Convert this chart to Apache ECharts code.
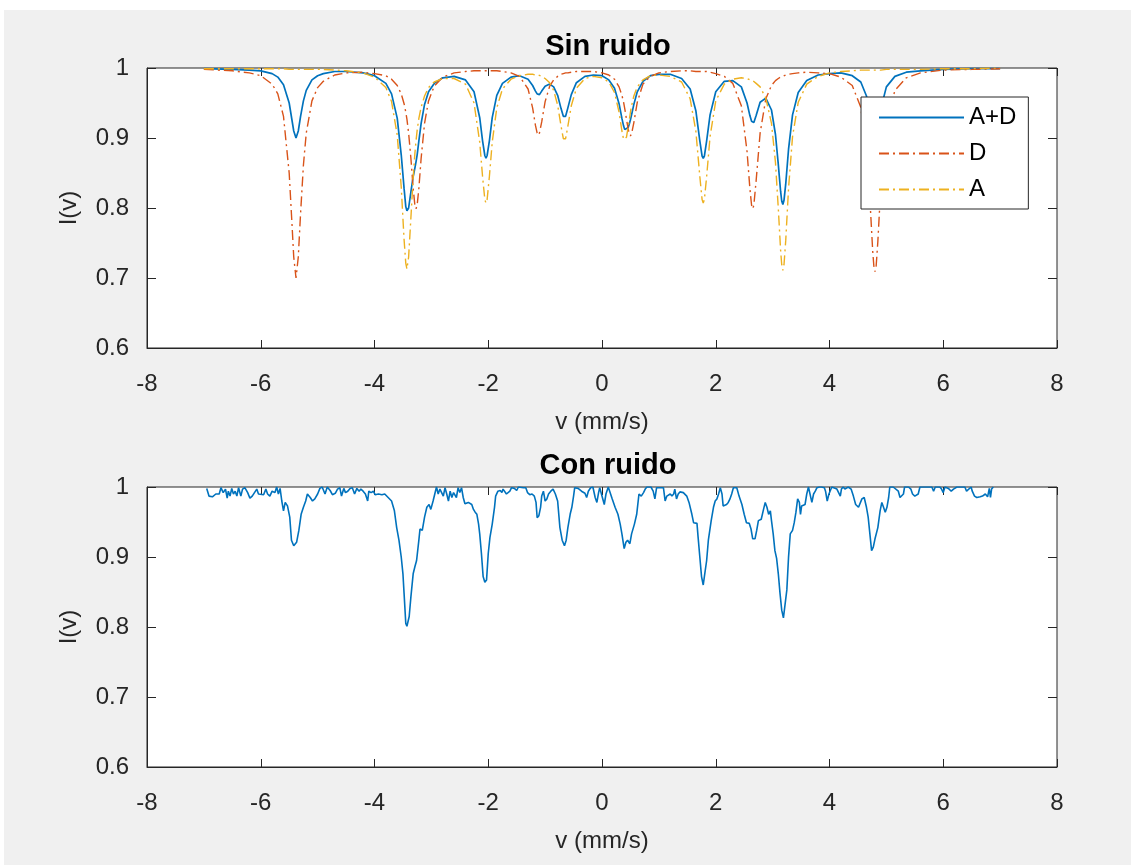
<!DOCTYPE html>
<html>
<head>
<meta charset="utf-8">
<script src="https://cdn.jsdelivr.net/npm/echarts@6/dist/echarts.min.js"></script>
<style>
html,body{margin:0;padding:0;background:#fff;}
#chart{width:1131px;height:865px;}
</style>
</head>
<body>
<div id="chart"></div>
<script>
// ---------- data ----------
const titles = ['Sin ruido', 'Con ruido'];
const legendNames = ['A+D', 'D', 'A'];
const xTickMin = -8, xTickMax = 8, xTickStep = 2;
const yTickMin = 0.6, yTickMax = 1, yTickStep = 0.1;

const vClean = [-7.0,-6.5,-6.2,-6.0,-5.8,-5.7,-5.6,-5.5,-5.45,-5.42,-5.38,-5.34,-5.30,-5.25,-5.2,-5.1,-5.0,-4.9,-4.7,-4.5,-4.2,-4.0,-3.8,-3.7,-3.6,-3.53,-3.48,-3.45,-3.43,-3.40,-3.36,-3.32,-3.29,-3.27,-3.25,-3.22,-3.18,-3.12,-3.05,-2.95,-2.8,-2.6,-2.4,-2.25,-2.15,-2.10,-2.06,-2.04,-2.02,-1.98,-1.93,-1.85,-1.75,-1.6,-1.45,-1.3,-1.22,-1.17,-1.14,-1.12,-1.10,-1.06,-1.0,-0.92,-0.85,-0.78,-0.72,-0.68,-0.66,-0.64,-0.60,-0.54,-0.45,-0.3,-0.15,0.0,0.12,0.22,0.30,0.35,0.38,0.40,0.43,0.46,0.48,0.50,0.52,0.56,0.62,0.72,0.85,1.0,1.2,1.4,1.55,1.65,1.72,1.76,1.78,1.80,1.84,1.90,2.0,2.15,2.3,2.45,2.55,2.60,2.63,2.65,2.67,2.71,2.78,2.88,2.98,3.05,3.10,3.14,3.16,3.18,3.20,3.23,3.28,3.35,3.45,3.6,3.8,4.0,4.2,4.4,4.55,4.65,4.72,4.76,4.78,4.80,4.82,4.85,4.9,5.0,5.15,5.35,5.6,6.0,6.5,7.0];

const iA = [0.999,0.999,0.999,0.999,0.999,0.999,0.999,0.998,0.998,0.998,0.998,0.998,0.998,0.998,0.998,0.998,0.998,0.998,0.997,0.996,0.993,0.987,0.972,0.952,0.904,0.830,0.755,0.721,0.713,0.730,0.786,0.843,0.878,0.896,0.911,0.928,0.944,0.960,0.972,0.980,0.985,0.985,0.977,0.950,0.894,0.845,0.812,0.807,0.812,0.845,0.894,0.943,0.970,0.984,0.989,0.991,0.991,0.990,0.990,0.990,0.989,0.988,0.985,0.979,0.968,0.947,0.917,0.899,0.897,0.899,0.917,0.946,0.971,0.985,0.988,0.986,0.980,0.965,0.937,0.910,0.898,0.896,0.901,0.916,0.926,0.937,0.946,0.960,0.973,0.983,0.989,0.990,0.988,0.980,0.956,0.910,0.845,0.812,0.807,0.812,0.845,0.902,0.953,0.977,0.984,0.986,0.985,0.983,0.982,0.982,0.981,0.978,0.973,0.957,0.921,0.865,0.799,0.740,0.719,0.711,0.719,0.753,0.828,0.902,0.951,0.977,0.988,0.993,0.995,0.996,0.997,0.997,0.997,0.997,0.997,0.997,0.997,0.997,0.997,0.998,0.998,0.998,0.998,0.999,0.999,1.000];

const iD = [0.998,0.996,0.993,0.989,0.977,0.963,0.931,0.850,0.776,0.730,0.700,0.730,0.792,0.861,0.907,0.953,0.972,0.981,0.990,0.993,0.994,0.992,0.989,0.984,0.975,0.963,0.949,0.937,0.927,0.907,0.871,0.828,0.804,0.799,0.804,0.828,0.871,0.921,0.953,0.974,0.987,0.993,0.995,0.996,0.996,0.996,0.996,0.996,0.996,0.996,0.996,0.996,0.995,0.993,0.988,0.970,0.943,0.918,0.907,0.904,0.907,0.923,0.952,0.974,0.983,0.988,0.991,0.992,0.993,0.993,0.993,0.994,0.995,0.995,0.995,0.993,0.990,0.984,0.973,0.961,0.951,0.942,0.927,0.913,0.906,0.903,0.906,0.922,0.951,0.977,0.988,0.993,0.995,0.996,0.996,0.995,0.995,0.995,0.995,0.995,0.995,0.994,0.992,0.988,0.978,0.946,0.881,0.828,0.804,0.799,0.804,0.839,0.907,0.956,0.975,0.982,0.985,0.987,0.988,0.988,0.989,0.990,0.991,0.992,0.993,0.994,0.993,0.992,0.987,0.975,0.944,0.886,0.798,0.738,0.717,0.709,0.717,0.752,0.828,0.922,0.968,0.986,0.993,0.997,0.998,0.999];

const iAD = [0.999,0.998,0.997,0.996,0.992,0.987,0.976,0.950,0.925,0.910,0.900,0.910,0.931,0.953,0.968,0.983,0.989,0.992,0.995,0.995,0.993,0.989,0.978,0.963,0.928,0.876,0.828,0.802,0.796,0.800,0.823,0.845,0.857,0.866,0.876,0.896,0.921,0.948,0.966,0.978,0.986,0.988,0.983,0.966,0.929,0.896,0.875,0.871,0.875,0.896,0.929,0.961,0.978,0.987,0.989,0.984,0.975,0.967,0.963,0.962,0.962,0.967,0.974,0.977,0.973,0.961,0.942,0.931,0.929,0.931,0.943,0.962,0.979,0.988,0.990,0.989,0.983,0.971,0.949,0.928,0.917,0.912,0.911,0.915,0.920,0.926,0.933,0.948,0.966,0.981,0.989,0.991,0.991,0.985,0.970,0.939,0.896,0.874,0.871,0.874,0.896,0.933,0.966,0.981,0.982,0.973,0.950,0.932,0.924,0.922,0.922,0.932,0.951,0.957,0.940,0.905,0.862,0.824,0.810,0.805,0.811,0.834,0.884,0.933,0.965,0.982,0.990,0.992,0.993,0.989,0.980,0.960,0.931,0.911,0.904,0.902,0.904,0.916,0.941,0.973,0.988,0.994,0.996,0.998,0.999,0.999];

const vNoisy = [-6.95,-6.91,-6.85,-6.79,-6.73,-6.70,-6.66,-6.62,-6.59,-6.57,-6.54,-6.51,-6.48,-6.45,-6.42,-6.39,-6.35,-6.32,-6.28,-6.23,-6.19,-6.15,-6.11,-6.07,-6.04,-6.01,-5.95,-5.91,-5.88,-5.84,-5.80,-5.75,-5.72,-5.69,-5.66,-5.63,-5.60,-5.57,-5.53,-5.49,-5.46,-5.42,-5.37,-5.33,-5.29,-5.25,-5.21,-5.18,-5.13,-5.09,-5.05,-5.00,-4.96,-4.92,-4.87,-4.83,-4.78,-4.74,-4.69,-4.65,-4.61,-4.58,-4.54,-4.51,-4.47,-4.43,-4.39,-4.35,-4.31,-4.27,-4.24,-4.20,-4.16,-4.12,-4.10,-4.06,-4.02,-3.99,-3.93,-3.87,-3.82,-3.76,-3.70,-3.65,-3.61,-3.57,-3.53,-3.50,-3.48,-3.45,-3.43,-3.39,-3.36,-3.32,-3.29,-3.26,-3.22,-3.20,-3.16,-3.12,-3.08,-3.04,-3.01,-2.97,-2.94,-2.91,-2.88,-2.85,-2.82,-2.79,-2.76,-2.73,-2.70,-2.67,-2.64,-2.61,-2.59,-2.56,-2.53,-2.50,-2.47,-2.44,-2.41,-2.35,-2.32,-2.29,-2.26,-2.23,-2.20,-2.17,-2.15,-2.12,-2.09,-2.06,-2.03,-2.00,-1.97,-1.93,-1.89,-1.87,-1.83,-1.79,-1.76,-1.74,-1.71,-1.68,-1.65,-1.62,-1.59,-1.54,-1.50,-1.47,-1.44,-1.38,-1.34,-1.31,-1.27,-1.23,-1.19,-1.16,-1.14,-1.11,-1.08,-1.06,-1.03,-1.00,-0.97,-0.94,-0.90,-0.86,-0.82,-0.78,-0.74,-0.70,-0.66,-0.63,-0.60,-0.56,-0.53,-0.50,-0.48,-0.42,-0.36,-0.30,-0.27,-0.24,-0.20,-0.16,-0.12,-0.09,-0.06,-0.04,-0.01,0.04,0.07,0.11,0.14,0.18,0.23,0.28,0.32,0.35,0.39,0.42,0.45,0.49,0.52,0.57,0.61,0.65,0.69,0.73,0.76,0.79,0.82,0.86,0.90,0.93,0.96,0.99,1.08,1.11,1.14,1.17,1.20,1.23,1.26,1.28,1.31,1.34,1.37,1.43,1.49,1.53,1.58,1.61,1.67,1.69,1.72,1.75,1.78,1.80,1.84,1.87,1.92,1.96,1.99,2.02,2.05,2.08,2.11,2.13,2.16,2.19,2.22,2.25,2.28,2.31,2.34,2.37,2.41,2.46,2.50,2.54,2.59,2.62,2.65,2.69,2.72,2.75,2.80,2.84,2.87,2.90,2.93,2.96,2.98,3.01,3.04,3.07,3.10,3.13,3.16,3.19,3.22,3.25,3.28,3.31,3.35,3.38,3.41,3.44,3.47,3.49,3.51,3.54,3.57,3.60,3.63,3.66,3.69,3.72,3.75,3.78,3.82,3.86,3.91,3.93,3.96,3.99,4.01,4.04,4.07,4.13,4.16,4.19,4.21,4.24,4.27,4.33,4.38,4.42,4.46,4.51,4.54,4.57,4.61,4.65,4.68,4.71,4.74,4.77,4.80,4.85,4.89,4.92,4.95,4.98,5.01,5.04,5.06,5.12,5.21,5.24,5.27,5.30,5.32,5.39,5.43,5.46,5.50,5.56,5.59,5.65,5.80,5.83,5.86,5.94,5.97,6.00,6.03,6.09,6.14,6.18,6.24,6.38,6.41,6.44,6.49,6.51,6.55,6.59,6.65,6.69,6.74,6.78,6.81,6.83,6.85,6.88];

const iNoisy = [0.998,0.987,0.986,0.990,0.990,0.999,0.992,0.997,0.984,0.994,0.987,0.998,0.990,0.994,0.987,0.999,0.987,0.997,0.999,0.992,0.984,0.987,0.992,0.997,0.990,0.989,0.989,0.997,0.990,0.987,0.994,0.992,1.000,0.990,0.998,0.980,0.966,0.978,0.973,0.957,0.924,0.916,0.921,0.938,0.961,0.971,0.980,0.990,0.985,0.980,0.983,0.990,0.998,1.000,0.990,1.000,0.995,0.989,0.991,0.997,0.999,0.987,0.998,0.992,0.994,0.998,0.999,0.990,0.998,0.994,0.997,0.994,0.990,0.980,0.994,0.992,0.994,0.989,0.990,0.989,0.990,0.985,0.980,0.966,0.942,0.924,0.900,0.876,0.848,0.805,0.801,0.815,0.843,0.876,0.886,0.895,0.924,0.940,0.938,0.957,0.971,0.975,0.968,0.980,0.990,1.000,0.990,0.997,0.999,0.987,0.999,0.990,0.980,0.994,0.985,0.992,0.990,0.985,0.999,0.992,0.999,0.985,0.976,0.978,0.978,0.975,0.968,0.964,0.961,0.947,0.933,0.905,0.872,0.864,0.867,0.905,0.928,0.947,0.971,0.987,0.994,0.995,0.992,0.997,0.999,0.990,0.990,0.994,0.999,0.998,0.995,1.000,0.998,0.999,0.999,0.992,0.989,0.990,0.987,0.978,0.956,0.959,0.971,0.987,0.994,0.980,0.983,0.990,0.994,0.997,0.990,0.980,0.942,0.924,0.916,0.924,0.942,0.961,0.971,0.987,0.999,0.998,0.994,0.991,0.985,0.994,0.999,1.000,0.985,0.978,0.992,0.999,0.990,0.975,0.990,1.000,0.999,0.983,0.971,0.961,0.947,0.933,0.912,0.921,0.924,0.919,0.933,0.947,0.961,0.990,0.987,0.992,0.997,1.000,0.999,1.000,0.994,0.983,0.999,1.000,0.999,0.980,0.987,0.985,0.990,0.987,0.990,0.997,0.983,0.990,0.993,0.992,0.987,0.978,0.961,0.949,0.948,0.928,0.900,0.872,0.860,0.872,0.895,0.924,0.952,0.971,0.980,0.983,0.990,0.999,0.990,0.973,0.971,0.975,0.978,0.983,0.990,0.999,1.000,0.999,0.987,0.975,0.961,0.949,0.948,0.940,0.926,0.926,0.938,0.952,0.954,0.968,0.978,0.971,0.961,0.966,0.952,0.933,0.909,0.898,0.876,0.848,0.824,0.813,0.815,0.853,0.900,0.933,0.938,0.949,0.964,0.983,0.978,0.961,0.973,0.975,0.975,0.990,1.000,0.999,0.978,0.990,0.994,0.999,1.000,1.000,0.999,0.994,0.980,0.990,0.994,1.000,1.000,0.997,0.992,0.987,0.997,1.000,0.997,1.000,0.997,0.987,0.975,0.971,0.973,0.983,0.985,0.971,0.957,0.933,0.909,0.914,0.926,0.942,0.966,0.978,0.971,0.964,0.971,0.985,1.000,1.000,0.994,0.985,0.983,0.990,1.000,1.000,0.997,0.990,0.987,0.990,1.000,1.000,1.000,0.994,1.000,1.000,0.997,0.992,1.000,0.998,0.994,0.997,1.000,1.000,0.994,0.994,1.000,0.994,0.987,0.985,0.986,0.987,0.990,0.986,0.998,0.985,0.997,1.000];

// ---------- chart ----------
const zip = (xs, ys) => xs.map((x, i) => [x, ys[i]]);
const FONT = '"Liberation Sans", Arial, Helvetica, sans-serif';
const AX = '#262626';
const C_BLUE = '#0072BD', C_RED = '#D95319', C_YEL = '#EDB120';
const grids = [
  {left: 147, top: 68, width: 910, height: 280},
  {left: 147, top: 487, width: 910, height: 280}
];

function xAxes(gi) {
  const base = {type: 'value', gridIndex: gi, min: xTickMin, max: xTickMax, interval: xTickStep,
    splitLine: {show: false}, axisTick: {inside: true, length: 8, lineStyle: {color: AX}}};
  return [
    Object.assign({}, base, {position: 'bottom',
      axisLine: {show: true, onZero: false, lineStyle: {color: AX, width: 1}},
      axisLabel: {color: AX, fontSize: 24, fontFamily: FONT, margin: 24},
      name: 'v (mm/s)', nameLocation: 'middle', nameGap: 62,
      nameTextStyle: {color: AX, fontSize: 24, fontFamily: FONT}}),
    Object.assign({}, base, {position: 'top', axisLine: {show: false, onZero: false}, axisLabel: {show: false}})
  ];
}
function yAxes(gi) {
  const base = {type: 'value', gridIndex: gi, min: yTickMin, max: yTickMax, interval: yTickStep,
    splitLine: {show: false}, axisTick: {inside: true, length: 9, lineStyle: {color: AX}}};
  return [
    Object.assign({}, base, {position: 'left',
      axisLine: {show: true, onZero: false, lineStyle: {color: AX, width: 1}},
      axisLabel: {color: AX, fontSize: 24, fontFamily: FONT, margin: 18,
        formatter: v => String(Math.round(v * 10) / 10)},
      name: 'I(v)', nameLocation: 'middle', nameGap: 66,
      nameTextStyle: {color: AX, fontSize: 24, fontFamily: FONT}}),
    Object.assign({}, base, {position: 'right', axisLine: {show: false, onZero: false}, axisLabel: {show: false}})
  ];
}

const option = {
  animation: false,
  backgroundColor: '#f0f0f0',
  textStyle: {fontFamily: FONT},
  graphic: [
    {type: 'rect', left: 0, top: 0, shape: {width: 1131, height: 10}, style: {fill: '#ffffff'}, z: -10, silent: true},
    {type: 'rect', left: 0, top: 0, shape: {width: 4, height: 865}, style: {fill: '#ffffff'}, z: -10, silent: true}
  ],
  title: [
    {text: titles[0], left: 603, top: 27, textAlign: 'center',
      textStyle: {fontSize: 29, fontWeight: 'bold', color: '#000', fontFamily: FONT}},
    {text: titles[1], left: 603, top: 446, textAlign: 'center',
      textStyle: {fontSize: 29, fontWeight: 'bold', color: '#000', fontFamily: FONT}}
  ],
  grid: grids.map(g => Object.assign({show: true, backgroundColor: '#ffffff', borderColor: AX, borderWidth: 1, containLabel: false}, g)),
  xAxis: xAxes(0).concat(xAxes(1)),
  yAxis: yAxes(0).concat(yAxes(1)),
  legend: {
    data: legendNames, orient: 'vertical', left: 861, top: 97,
    padding: [8, 12, 7, 17], itemWidth: 85, itemHeight: 14, itemGap: 11,
    backgroundColor: '#ffffff', borderColor: AX, borderWidth: 1, borderRadius: 0,
    itemStyle: {opacity: 0},
    textStyle: {fontSize: 24, color: '#000', fontFamily: FONT, lineHeight: 25},
    z: 10
  },
  series: [
    {name: legendNames[0], type: 'line', xAxisIndex: 0, yAxisIndex: 0, data: zip(vClean, iAD),
      showSymbol: false, symbol: 'none', lineStyle: {color: C_BLUE, width: 1.7}, itemStyle: {color: C_BLUE}},
    {name: legendNames[1], type: 'line', xAxisIndex: 0, yAxisIndex: 0, data: zip(vClean, iD),
      showSymbol: false, symbol: 'none', lineStyle: {color: C_RED, width: 1.4, type: [10, 4, 2, 4]}, itemStyle: {color: C_RED}},
    {name: legendNames[2], type: 'line', xAxisIndex: 0, yAxisIndex: 0, data: zip(vClean, iA),
      showSymbol: false, symbol: 'none', lineStyle: {color: C_YEL, width: 1.4, type: [10, 4, 2, 4]}, itemStyle: {color: C_YEL}},
    {name: 'ruido', type: 'line', xAxisIndex: 2, yAxisIndex: 2, data: zip(vNoisy, iNoisy),
      showSymbol: false, symbol: 'none', lineStyle: {color: C_BLUE, width: 1.6}, itemStyle: {color: C_BLUE}}
  ]
};

const chart = echarts.init(document.getElementById('chart'), null, {renderer: 'canvas'});
chart.setOption(option);
</script>
</body>
</html>
